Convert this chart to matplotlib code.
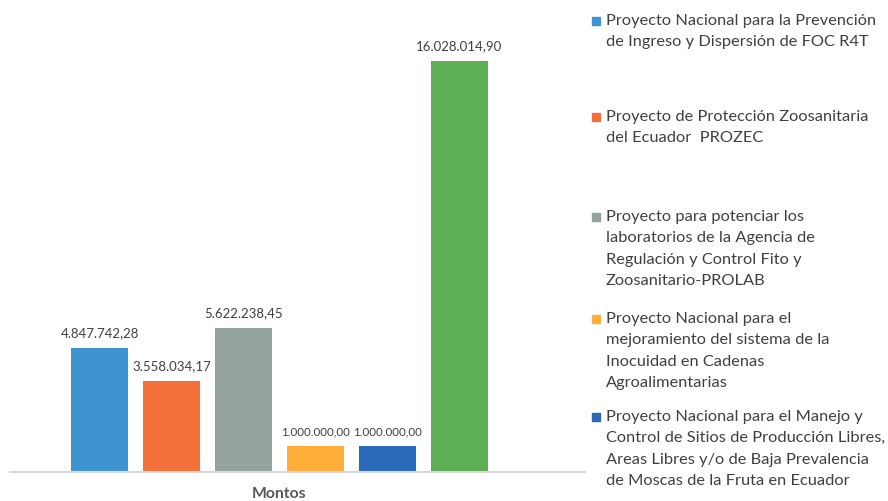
import matplotlib
matplotlib.use("Agg")
import matplotlib.pyplot as plt
from matplotlib.patches import Rectangle

plt.rcParams['font.family'] = ['Lato', 'DejaVu Sans']

category = "Montos"
projects = [
    "Proyecto Nacional para la Prevención\nde Ingreso y Dispersión de FOC R4T",
    "Proyecto de Protección Zoosanitaria\ndel Ecuador  PROZEC",
    "Proyecto para potenciar los\nlaboratorios de la Agencia de\nRegulación y Control Fito y\nZoosanitario-PROLAB",
    "Proyecto Nacional para el\nmejoramiento del sistema de la\nInocuidad en Cadenas\nAgroalimentarias",
    "Proyecto Nacional para el Manejo y\nControl de Sitios de Producción Libres,\nAreas Libres y/o de Baja Prevalencia\nde Moscas de la Fruta en Ecuador",
    "Otros proyectos",
]
values = [4847742.28, 3558034.17, 5622238.45, 1000000.00, 1000000.00, 16028014.90]
value_labels = ["4.847.742,28", "3.558.034,17", "5.622.238,45",
                "1.000.000,00", "1.000.000,00", "16.028.014,90"]

colors = ["#3D94D0", "#F4703A", "#95A3A0", "#FFAE3A", "#2A6AB8", "#5DAE55"]
label_sizes = [9.5, 9.5, 9.5, 8.3, 8.3, 9.5]

W, H = 888, 502
fig = plt.figure(figsize=(W / 100, H / 100), dpi=100)
ax_left, ax_right, ax_bottom, ax_top = 10, 585, 473, 20
ax = fig.add_axes([ax_left / W, (H - ax_bottom) / H,
                   (ax_right - ax_left) / W, (ax_bottom - ax_top) / H])

xs = list(range(len(values)))
bars = ax.bar(xs, values, width=0.79, color=colors, zorder=2)
ymax = max(values) * (ax_bottom - ax_top) / 411.0
ax.set_ylim(0, ymax)
ax.set_xlim(-1.25, 6.75)

for x, v, lab, fs in zip(xs, values, value_labels, label_sizes):
    ax.annotate(lab, (x, v), xytext=(0, 7), textcoords="offset points",
                ha="center", va="bottom", fontsize=fs, color="#404040")

for s in ["top", "right", "left"]:
    ax.spines[s].set_visible(False)
ax.spines["bottom"].set_color("#D9D9D9")
ax.spines["bottom"].set_linewidth(1.5)
ax.set_yticks([])
ax.set_xticks([(len(values) - 1) / 2])
ax.set_xticklabels([category], fontsize=11.3, fontweight="bold", color="#595959")
ax.tick_params(axis="x", length=0, pad=10)

# legend drawn manually (only the entries that fit in the visible area)
leg_centers = [22, 118, 218, 320, 418, 518]
for yc, name, c in zip(leg_centers, projects, colors):
    if yc > H - 20:
        continue
    fig.patches.append(Rectangle((592 / W, (H - yc - 4) / H), 8 / W, 8 / H,
                                 transform=fig.transFigure, color=c))
    fig.text(606 / W, (H - yc + 8) / H, name, ha="left", va="top",
             fontsize=11.8, color="#404040", linespacing=1.66)

fig.savefig("out.png", dpi=100)
